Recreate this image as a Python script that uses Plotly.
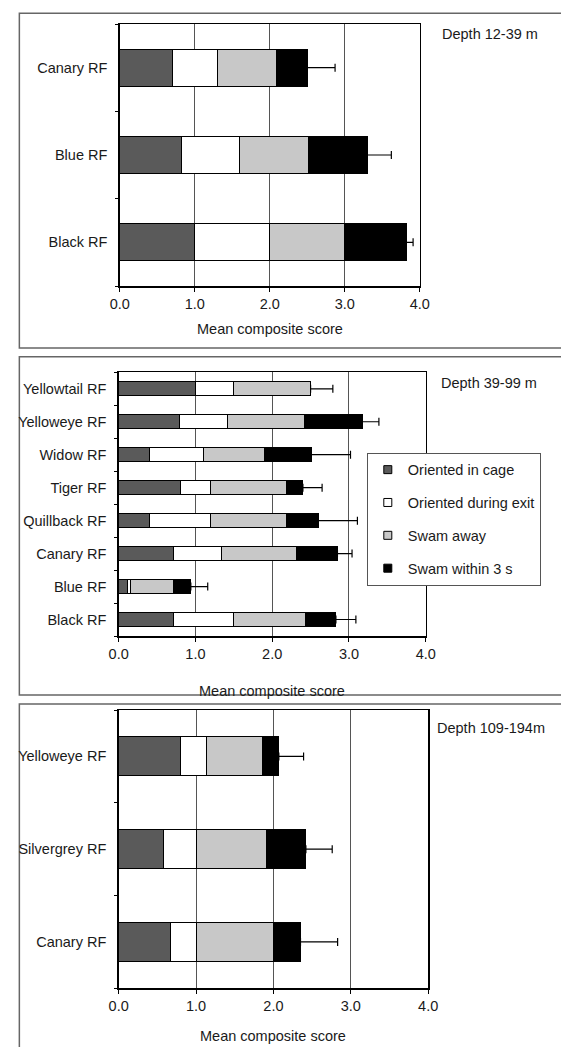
import plotly.graph_objects as go

# ---------------- data ----------------
segment_names = ["Oriented in cage", "Oriented during exit", "Swam away", "Swam within 3 s"]
segment_colors = ["#5a5a5a", "#ffffff", "#c8c8c8", "#000000"]

# Panel 1: Depth 12-39 m (bottom to top)
p1_species = ["Black RF", "Blue RF", "Canary RF"]
p1_in_cage = [1.00, 0.82, 0.70]
p1_exit = [1.00, 0.77, 0.60]
p1_away = [1.00, 0.93, 0.79]
p1_within3 = [0.82, 0.78, 0.41]
p1_se = [0.09, 0.32, 0.37]

# Panel 2: Depth 39-99 m (bottom to top)
p2_species = ["Black RF", "Blue RF", "Canary RF", "Quillback RF", "Tiger RF",
              "Widow RF", "Yelloweye RF", "Yellowtail RF"]
p2_in_cage = [0.71, 0.11, 0.71, 0.40, 0.80, 0.40, 0.79, 1.00]
p2_exit = [0.79, 0.05, 0.63, 0.80, 0.40, 0.70, 0.63, 0.50]
p2_away = [0.93, 0.55, 0.97, 0.99, 0.99, 0.80, 1.00, 1.00]
p2_within3 = [0.40, 0.23, 0.54, 0.41, 0.21, 0.61, 0.75, 0.00]
p2_se = [0.26, 0.22, 0.19, 0.51, 0.25, 0.51, 0.22, 0.29]

# Panel 3: Depth 109-194 m (bottom to top)
p3_species = ["Canary RF", "Silvergrey RF", "Yelloweye RF"]
p3_in_cage = [0.67, 0.58, 0.80]
p3_exit = [0.33, 0.42, 0.33]
p3_away = [1.00, 0.91, 0.73]
p3_within3 = [0.35, 0.51, 0.21]
p3_se = [0.48, 0.34, 0.32]

x_ticks = [0, 1, 2, 3, 4]
x_ticktext = ["0.0", "1.0", "2.0", "3.0", "4.0"]
depth_labels = ["Depth 12-39 m", "Depth 39-99 m", "Depth 109-194m"]
x_title = "Mean composite score"

# ---------------- figure ----------------
W, H = 561, 1047
FONT = "Arial, Liberation Sans, sans-serif"
FS = 14.5
TXT = "#1a1a1a"

def px_x(v):
    return v / W

def px_y(v):
    return 1 - v / H

panels = [
    dict(species=p1_species, segs=[p1_in_cage, p1_exit, p1_away, p1_within3], se=p1_se,
         xdom=[px_x(113.8), px_x(425.0)], ydom=[px_y(286), px_y(24)],
         box=(9.7, 13.3, 348.0), depth_xy=(446, 34), title_y=329),
    dict(species=p2_species, segs=[p2_in_cage, p2_exit, p2_away, p2_within3], se=p2_se,
         xdom=[px_x(112.7), px_x(431.1)], ydom=[px_y(636), px_y(372.3)],
         box=(9.7, 356.7, 695.0), depth_xy=(445, 383), title_y=691),
    dict(species=p3_species, segs=[p3_in_cage, p3_exit, p3_away, p3_within3], se=p3_se,
         xdom=[px_x(112.7), px_x(433.6)], ydom=[px_y(988.3), px_y(710)],
         box=(9.7, 704.0, 1060.0), depth_xy=(441, 728), title_y=1036),
]

fig = go.Figure()
shapes = []
annotations = []

for i, p in enumerate(panels):
    n = len(p["species"])
    ypos = list(range(n))
    sfx = "" if i == 0 else str(i + 1)
    xa, ya = "x" + sfx, "y" + sfx
    for k, seg in enumerate(p["segs"]):
        fig.add_trace(go.Bar(
            x=seg, y=ypos, orientation="h", width=0.42,
            marker=dict(color=segment_colors[k], line=dict(color="#000000", width=1)),
            xaxis=xa, yaxis=ya, showlegend=False, name=segment_names[k],
        ))
    totals = [sum(v) for v in zip(*p["segs"])]
    fig.add_trace(go.Scatter(
        x=totals, y=ypos, mode="markers",
        marker=dict(color="rgba(0,0,0,0)", size=1),
        error_x=dict(type="data", symmetric=False, array=p["se"], arrayminus=[0] * n,
                     color="#000000", thickness=1.2, width=4),
        xaxis=xa, yaxis=ya, showlegend=False, hoverinfo="skip",
    ))

    lay_x = dict(
        domain=p["xdom"], range=[0, 4], anchor=ya,
        tickmode="array", tickvals=x_ticks, ticktext=x_ticktext,
        ticks="outside", ticklen=4, tickcolor="#000", tickwidth=1,
        showline=True, linecolor="#000", linewidth=1.5, mirror=True,
        showgrid=True, gridcolor="#555555", gridwidth=1,
        zeroline=False, fixedrange=True,
        tickfont=dict(family=FONT, size=FS, color=TXT),
    )
    lay_y = dict(
        domain=p["ydom"], range=[-0.5, n - 0.5], anchor=xa,
        tickmode="array", tickvals=ypos, ticktext=p["species"], ticks="",
        ticklabelstandoff=8,
        minor=dict(tickmode="array", tickvals=[j - 0.5 for j in range(n + 1)],
                   ticks="outside", ticklen=3, tickcolor="#000", showgrid=False),
        showline=True, linecolor="#000", linewidth=1.5, mirror=True,
        showgrid=False, zeroline=False, fixedrange=True,
        tickfont=dict(family=FONT, size=FS, color=TXT),
    )
    fig.update_layout(**{"xaxis" + sfx: lay_x, "yaxis" + sfx: lay_y})

    bx, by0, by1 = p["box"]
    shapes.append(dict(type="rect", xref="paper", yref="paper",
                       x0=px_x(bx), x1=1.05, y0=px_y(by1), y1=px_y(by0),
                       line=dict(color="#666666", width=1.5), fillcolor="rgba(0,0,0,0)", layer="below"))
    dx, dy = p["depth_xy"]
    annotations.append(dict(text=depth_labels[i], xref="paper", yref="paper",
                            x=px_x(dx), y=px_y(dy), xanchor="left", yanchor="middle",
                            showarrow=False, font=dict(family=FONT, size=FS, color=TXT)))
    annotations.append(dict(text=x_title, xref="paper", yref="paper",
                            x=(p["xdom"][0] + p["xdom"][1]) / 2, y=px_y(p["title_y"]),
                            xanchor="center", yanchor="middle",
                            showarrow=False, font=dict(family=FONT, size=FS, color=TXT)))

# legend entries (middle panel)
for k in range(4):
    fig.add_trace(go.Scatter(
        x=[None], y=[None], mode="markers", name=segment_names[k],
        marker=dict(symbol="square", size=8, color=segment_colors[k],
                    line=dict(color="#000000", width=1)),
        xaxis="x2", yaxis="y2", showlegend=True, legendgroup=str(k),
    ))

fig.update_layout(
    width=W, height=H, autosize=False,
    margin=dict(l=0, r=0, t=0, b=0),
    paper_bgcolor="#ffffff", plot_bgcolor="#ffffff",
    barmode="stack", bargap=0,
    shapes=shapes, annotations=annotations,
    font=dict(family=FONT, size=FS, color=TXT),
    legend=dict(x=px_x(370), y=px_y(452.7), xanchor="left", yanchor="top",
                bgcolor="#ffffff", bordercolor="#555555", borderwidth=1,
                font=dict(family=FONT, size=FS, color=TXT),
                tracegroupgap=11, traceorder="grouped", itemwidth=30),
)

fig.write_html("out.html",
               config={"displayModeBar": False, "staticPlot": True},
               post_script="document.body.style.margin='0px';document.body.style.overflow='hidden';")
